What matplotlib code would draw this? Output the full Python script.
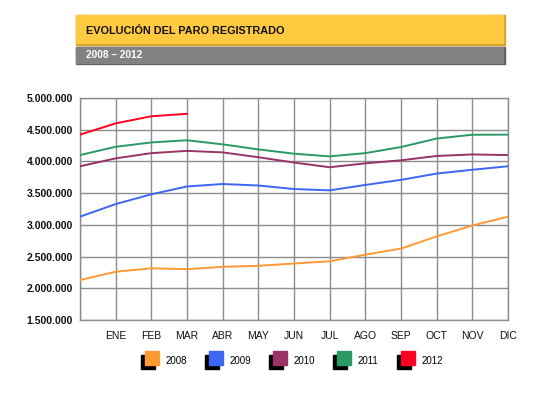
import matplotlib
matplotlib.use('Agg')
import matplotlib.pyplot as plt
import matplotlib.ticker as mticker
from matplotlib.patches import Rectangle

# -----------------------------------------------------------------------------
# data (paro registrado, first point = December of the previous year)
# -----------------------------------------------------------------------------
months = ['', 'ENE', 'FEB', 'MAR', 'ABR', 'MAY', 'JUN', 'JUL', 'AGO', 'SEP',
          'OCT', 'NOV', 'DIC']
years = ['2008', '2009', '2010', '2011', '2012']
colors = ['#FF9933', '#3D66F5', '#993366', '#2A9966', '#FF0022']

paro_2008 = [2129547, 2261000, 2315331, 2300975, 2338517, 2353985, 2390403,
             2426185, 2530001, 2625368, 2818026, 2989269, 3128963]
paro_2009 = [3128963, 3327801, 3481859, 3605402, 3644041, 3620139, 3564889,
             3544105, 3629080, 3709447, 3808353, 3868946, 3923603]
paro_2010 = [3923603, 4048493, 4130625, 4166613, 4142425, 4066202, 3982368,
             3908405, 3969661, 4017763, 4085976, 4110294, 4100073]
paro_2011 = [4100073, 4231003, 4299263, 4333669, 4269360, 4189659, 4121801,
             4079742, 4130927, 4226744, 4360926, 4420462, 4422359]
paro_2012 = [4422359, 4599829, 4712098, 4750867]

series = [paro_2008, paro_2009, paro_2010, paro_2011, paro_2012]

title = 'EVOLUCIÓN DEL PARO REGISTRADO'
subtitle = '2008 \u2013 2012'

plt.rcParams['font.family'] = ['Liberation Sans', 'DejaVu Sans']

W, H = 555, 397
fig = plt.figure(figsize=(W / 100, H / 100), dpi=100)


def fx(px):
    return px / W


def fy(py):
    return 1 - py / H


# -----------------------------------------------------------------------------
# header bars
# -----------------------------------------------------------------------------
# yellow bar with a darker bevel on the right / bottom
fig.patches.append(Rectangle((fx(76), fy(45)), fx(505) - fx(76), fy(15) - fy(45),
                             transform=fig.transFigure, color='#D2A22C', zorder=1))
fig.patches.append(Rectangle((fx(76), fy(43)), fx(503) - fx(76), fy(15) - fy(43),
                             transform=fig.transFigure, color='#FFC940', zorder=2))
fig.text(fx(86), fy(31), title, fontsize=7.8, fontweight='bold', color='#111111',
         va='center', ha='left', zorder=3)

# grey bar
fig.patches.append(Rectangle((fx(76), fy(64)), fx(505) - fx(76), fy(47) - fy(64),
                             transform=fig.transFigure, color='#5E5E5E', zorder=1))
fig.patches.append(Rectangle((fx(76), fy(62.5)), fx(503) - fx(76), fy(47) - fy(62.5),
                             transform=fig.transFigure, color='#828282', zorder=2))
fig.text(fx(86), fy(55.5), subtitle, fontsize=7.3, fontweight='bold', color='white',
         va='center', ha='left', zorder=3,
         family=['Liberation Sans Narrow', 'Liberation Sans', 'DejaVu Sans'])

# -----------------------------------------------------------------------------
# chart
# -----------------------------------------------------------------------------
ax = fig.add_axes([fx(80), fy(320), fx(508) - fx(80), fy(98) - fy(320)])

x = list(range(len(months)))
for vals, c in zip(series, colors):
    ax.plot(x[:len(vals)], vals, color=c, linewidth=1.4, zorder=3)

ax.set_xlim(0, len(months) - 1)
ax.set_ylim(1500000, 5000000)
ax.set_xticks(x)
ax.set_xticklabels(months)
ax.yaxis.set_major_locator(mticker.MultipleLocator(500000))
ax.yaxis.set_major_formatter(
    mticker.FuncFormatter(lambda v, p: '{:,.0f}'.format(v).replace(',', '.')))

ax.grid(True, color='#8C8C8C', linewidth=1)
ax.set_axisbelow(True)
for s in ax.spines.values():
    s.set_color('#8C8C8C')
    s.set_linewidth(1)

ax.tick_params(axis='both', length=0)
ax.tick_params(axis='x', labelsize=7.5, pad=8, colors='#111111')
ax.tick_params(axis='y', labelsize=7.5, pad=5, colors='#111111')
for lab in ax.get_yticklabels():
    lab.set_fontweight('bold')

# -----------------------------------------------------------------------------
# legend: coloured squares with a black drop shadow
# -----------------------------------------------------------------------------
sq = 14
for i, (yr, c) in enumerate(zip(years, colors)):
    x0 = 145 + i * 64
    y0 = 351
    fig.patches.append(Rectangle((fx(x0 - 4), fy(y0 + sq + 4)), fx(sq), fy(0) - fy(sq),
                                 transform=fig.transFigure, color='black', zorder=1))
    fig.patches.append(Rectangle((fx(x0), fy(y0 + sq)), fx(sq), fy(0) - fy(sq),
                                 transform=fig.transFigure, color=c, zorder=2))
    fig.text(fx(x0 + 21), fy(y0 + 10), yr, fontsize=7, color='black',
             va='center', ha='left')

fig.savefig('out.png', dpi=100)
